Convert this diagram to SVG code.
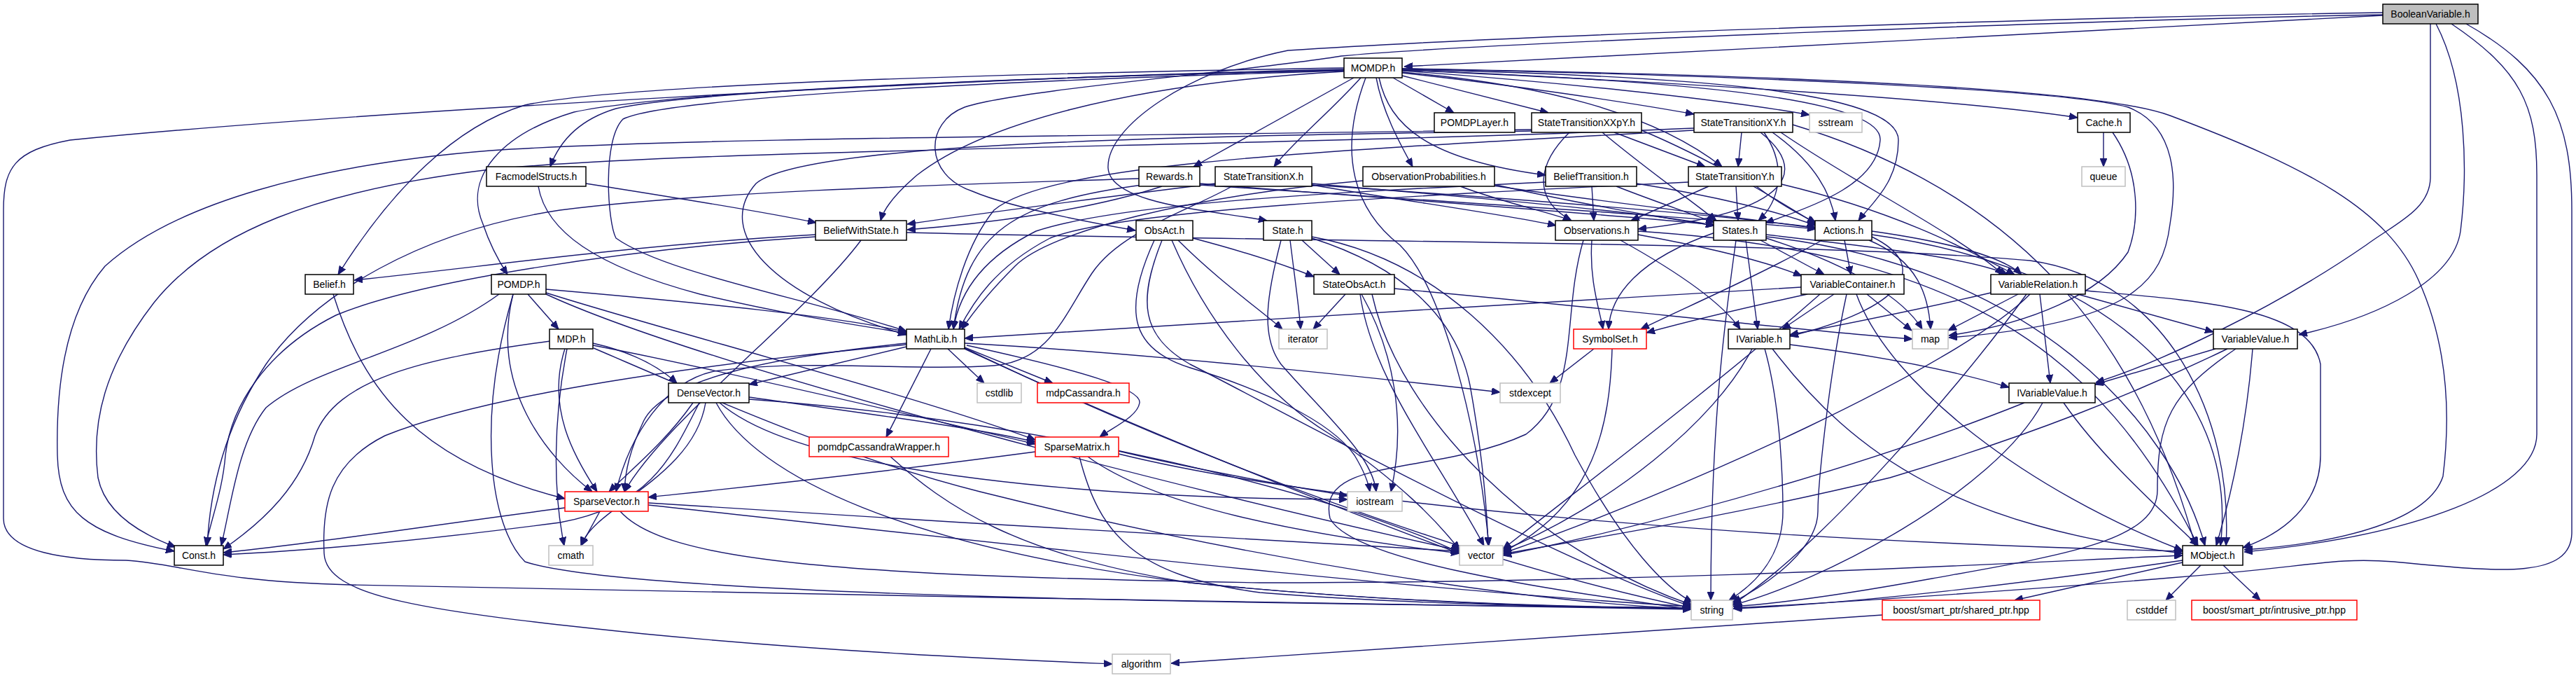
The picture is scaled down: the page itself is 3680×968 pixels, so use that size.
<svg xmlns="http://www.w3.org/2000/svg" width="3680" height="968" viewBox="0 0 3680 968">
<style>
.n rect{fill:#fff;stroke:#000;stroke-width:1.5}
.n.g rect{stroke:#bfbfbf}
.n.r rect{stroke:#ff0000}
.n.root rect{fill:#bfbfbf}
.n text{font-family:"Liberation Sans",Arial,sans-serif;font-size:14px;text-anchor:middle;fill:#000}
.e path{fill:none;stroke:#191970;stroke-width:1.4;marker-end:url(#a)}
</style>
<defs>
<marker id="a" markerWidth="12" markerHeight="10" refX="12" refY="5" orient="auto" markerUnits="userSpaceOnUse"><path d="M0,0 L12,5 L0,10 z" fill="#191970" stroke="#191970" stroke-width="1"/></marker>
</defs>
<rect width="3680" height="968" fill="#fff"/>
<g id="edges" class="e">
<path d="M3404,22 C3000,40 2400,78 2006,95"/>
<path d="M3404,18 C3000,24 2200,48 1840,72 C1700,100 1580,180 1583,240 C1586,292 1730,300 1810,315"/>
<path d="M3404,21 C3000,28 2100,62 1916,80 C1800,100 1450,128 1378,153 C1320,175 1320,250 1389,273 C1440,295 1560,318 1622,329"/>
<path d="M3472,34 L3472,253 C3472,300 3420,320 3380,350 C3250,440 3080,520 2994,546"/>
<path d="M3480,34 C3525,120 3525,250 3515,330 C3505,400 3400,452 3284,478"/>
<path d="M3502,34 C3600,100 3624,150 3624,250 L3624,620 C3624,700 3450,765 3206,788"/>
<path d="M3523,34 C3640,100 3674,170 3674,300 L3674,760 C3674,830 3560,815 3420,802 C3330,795 3300,810 3100,825 C2900,842 2600,862 2477,868"/>
<path d="M1990,111 L2077,161"/>
<path d="M2003,108 L2212,161"/>
<path d="M2003,104 C2150,120 2320,145 2420,163"/>
<path d="M2003,101 C2200,115 2450,140 2585,164"/>
<path d="M2003,103 C2200,120 2360,160 2460,238"/>
<path d="M2003,100 C2400,115 2690,140 2686,200 C2682,260 2600,292 2522,318"/>
<path d="M2003,99 C2400,108 2712,128 2712,200 C2712,262 2672,292 2655,315"/>
<path d="M2003,100 C2400,118 2800,142 2968,168"/>
<path d="M2003,98 C2500,108 2950,128 3040,153 C3110,180 3110,260 3100,320 C3090,400 3050,462 2784,482"/>
<path d="M2003,98 C2600,108 3000,128 3100,165 C3300,240 3410,300 3455,400 C3500,500 3500,600 3490,680 C3470,742 3350,775 3206,785"/>
<path d="M1934,111 L1705,238"/>
<path d="M1944,111 C1900,160 1845,205 1820,238"/>
<path d="M1966,111 C1975,160 2000,205 2018,238"/>
<path d="M1970,111 C1985,180 2040,228 2208,250"/>
<path d="M1951,111 C1910,220 1935,300 2000,350 C2060,410 2110,600 2127,779"/>
<path d="M1920,100 C1500,110 1000,128 880,155 C830,170 800,200 786,238"/>
<path d="M1920,97 C1500,104 900,118 750,150 C650,180 560,270 483,392"/>
<path d="M1920,99 C1400,110 500,160 100,200 C20,215 5,240 5,300 L5,740 C5,790 100,800 180,800 C260,805 300,830 500,835 C1000,850 1900,858 2416,870"/>
<path d="M1920,100 C1400,112 950,132 820,160 C720,190 660,250 690,320 C700,350 712,372 725,392"/>
<path d="M1920,101 C1400,116 950,140 890,170 C860,200 868,318 880,340 C950,390 1150,425 1295,473"/>
<path d="M1920,102 C1600,120 1400,180 1310,250 C1275,280 1262,300 1258,315"/>
<path d="M2188,185 C1600,195 1000,195 700,215 C450,235 250,290 150,380 C90,450 80,560 82,650 C84,730 120,762 249,787"/>
<path d="M2188,187 C1700,195 1150,202 1080,262 C1020,330 1100,422 1295,478"/>
<path d="M2242,189 C2200,230 2185,282 2245,315"/>
<path d="M2289,189 C2350,240 2410,282 2452,315"/>
<path d="M2306,189 L2436,238"/>
<path d="M2345,186 C2450,230 2550,292 2595,320"/>
<path d="M2420,183 C1800,210 1000,212 700,242 C450,272 300,332 220,432 C150,522 130,602 140,682 C150,732 200,762 251,781"/>
<path d="M2420,186 C1900,215 1500,232 1420,300 C1380,350 1362,420 1355,470"/>
<path d="M2488,189 L2483,238"/>
<path d="M2515,189 C2580,240 2570,302 2340,327"/>
<path d="M2520,189 C2555,240 2540,290 2512,315"/>
<path d="M2532,189 C2590,230 2615,272 2622,315"/>
<path d="M2544,189 C2650,262 2790,330 2862,392"/>
<path d="M2561,178 C2900,280 3060,500 3136,779"/>
<path d="M2441,266 L2330,315"/>
<path d="M2480,266 L2483,315"/>
<path d="M2509,266 C2540,290 2570,306 2594,318"/>
<path d="M2412,260 C2000,280 1600,300 1500,340 C1420,382 1390,432 1370,470"/>
<path d="M2545,263 C2700,300 2800,350 2878,392"/>
<path d="M2274,266 L2277,315"/>
<path d="M2309,266 C2370,290 2420,306 2449,318"/>
<path d="M2338,262 C2450,280 2540,302 2594,322"/>
<path d="M2208,260 C1900,275 1600,290 1480,330 C1400,370 1370,420 1362,470"/>
<path d="M2086,266 C2150,290 2210,302 2245,315"/>
<path d="M2133,263 C2250,290 2380,312 2449,322"/>
<path d="M2133,265 C2300,290 2500,312 2594,326"/>
<path d="M1947,258 C1700,280 1500,330 1450,380 C1410,420 1390,446 1374,470"/>
<path d="M1760,266 C1700,300 1600,330 1560,390 C1520,450 1500,515 1420,522 C1300,530 1150,512 1020,530 C950,545 900,620 880,702"/>
<path d="M1874,262 C2100,282 2350,302 2449,322"/>
<path d="M1874,264 C2200,286 2450,306 2594,325"/>
<path d="M1736,262 C1550,285 1400,305 1296,320"/>
<path d="M1874,264 C2000,286 2150,306 2223,322"/>
<path d="M1627,255 C1300,265 1000,275 800,300 C600,330 450,420 380,520 C320,610 300,700 296,779"/>
<path d="M1632,264 C1450,288 1380,330 1362,470"/>
<path d="M1714,262 C2000,285 2300,306 2449,321"/>
<path d="M1714,264 C2100,290 2450,312 2594,327"/>
<path d="M1660,266 C1550,302 1400,320 1296,328"/>
<path d="M837,262 C950,280 1080,300 1166,318"/>
<path d="M769,266 C780,330 850,380 1000,420 C1150,455 1240,466 1295,476"/>
<path d="M1165,335 C900,350 700,380 506,400"/>
<path d="M1165,338 C900,355 600,400 480,450 C380,500 330,580 322,650 C318,700 302,740 294,779"/>
<path d="M1230,343 C1150,450 950,600 892,702"/>
<path d="M1295,332 C1800,345 2600,345 2900,372 C3100,400 3190,600 3180,779"/>
<path d="M1704,340 C1780,360 1840,380 1877,395"/>
<path d="M1683,343 C1740,400 1800,442 1832,470"/>
<path d="M1674,343 C1720,450 1800,560 1900,620 C2000,690 2050,740 2085,785"/>
<path d="M1660,343 C1625,430 1630,480 1700,520 C1800,570 2200,790 2416,866"/>
<path d="M1649,343 C1600,450 1620,500 1700,525 C1800,555 1900,600 1935,650 C1950,675 1955,690 1957,702"/>
<path d="M1860,343 L1914,392"/>
<path d="M1843,343 C1850,400 1856,440 1858,470"/>
<path d="M1874,340 C2000,380 2080,450 2100,550 C2118,650 2124,720 2126,779"/>
<path d="M1874,338 C2050,370 2180,500 2250,650 C2320,780 2380,840 2418,860"/>
<path d="M1830,343 C1810,420 1800,480 1830,520 C1900,600 1960,650 1966,702"/>
<path d="M1922,420 L1876,470"/>
<path d="M1992,412 C2300,440 2550,470 2732,484"/>
<path d="M1943,420 C1960,540 2050,650 2120,779"/>
<path d="M1945,420 C1990,500 2010,600 1987,702"/>
<path d="M1960,420 C2000,600 2200,790 2418,864"/>
<path d="M2274,343 C2270,400 2285,442 2290,470"/>
<path d="M2315,343 C2400,390 2460,432 2486,470"/>
<path d="M2340,335 C2450,355 2530,376 2574,394"/>
<path d="M2262,343 C2230,450 2260,560 2180,620 C2050,680 1880,650 1900,740 C1930,800 2200,840 2416,870"/>
<path d="M2340,330 C2800,360 3000,500 3140,779"/>
<path d="M2450,332 C2340,370 2300,422 2298,470"/>
<path d="M2494,343 L2511,470"/>
<path d="M2515,343 L2606,392"/>
<path d="M2480,343 C2465,450 2444,600 2444,857"/>
<path d="M2523,335 C2700,355 2820,370 2868,392"/>
<path d="M2523,338 C2900,380 3100,600 3150,779"/>
<path d="M2523,340 C2650,380 2722,430 2746,470"/>
<path d="M2603,343 C2500,400 2400,442 2344,470"/>
<path d="M2635,343 L2644,392"/>
<path d="M2670,343 C2740,372 2755,422 2758,470"/>
<path d="M2674,330 C2780,345 2860,366 2888,392"/>
<path d="M2674,338 C2760,380 2720,440 2557,480"/>
<path d="M2674,335 C3000,380 3200,550 3172,779"/>
<path d="M2573,410 C2200,432 1700,462 1378,483"/>
<path d="M2582,420 C2480,442 2400,462 2352,475"/>
<path d="M2620,420 L2546,470"/>
<path d="M2667,420 L2731,472"/>
<path d="M2638,420 C2610,550 2597,700 2597,730 C2597,782 2530,832 2475,860"/>
<path d="M2652,420 C2700,552 2900,702 3118,786"/>
<path d="M2600,420 C2450,552 2250,702 2147,784"/>
<path d="M2844,418 C2750,440 2650,460 2557,478"/>
<path d="M2883,420 L2783,472"/>
<path d="M2914,420 L2929,547"/>
<path d="M2968,420 L3162,474"/>
<path d="M2895,420 C2800,552 2600,782 2475,863"/>
<path d="M2900,420 C2800,522 2400,702 2147,790"/>
<path d="M2979,415 C3150,430 3300,440 3315,520 L3315,650 C3315,722 3260,762 3204,782"/>
<path d="M3165,498 L2993,549"/>
<path d="M3218,498 C3210,600 3190,700 3166,779"/>
<path d="M3194,498 C3100,562 3082,602 3082,700 C3082,772 2950,792 2760,826 C2650,846 2550,861 2476,866"/>
<path d="M3182,498 C3050,562 2900,622 2700,682 C2450,742 2250,772 2147,791"/>
<path d="M2948,575 C3000,650 3080,722 3140,779"/>
<path d="M2892,575 C2700,652 2400,742 2147,793"/>
<path d="M2918,575 C2850,702 2600,832 2475,864"/>
<path d="M2503,498 C2450,602 2300,722 2147,786"/>
<path d="M2521,498 C2545,582 2547,700 2547,730 C2547,792 2510,832 2470,857"/>
<path d="M2532,498 C2650,652 2800,752 3118,790"/>
<path d="M2557,492 C2700,510 2800,532 2870,553"/>
<path d="M2277,498 L2214,547"/>
<path d="M2303,498 C2300,602 2280,722 2147,788"/>
<path d="M1295,495 L1070,549"/>
<path d="M1354,498 L1406,547"/>
<path d="M1378,496 L1504,547"/>
<path d="M1330,498 L1266,624"/>
<path d="M1381,493 C1550,530 1630,555 1628,575 C1625,595 1590,610 1571,624"/>
<path d="M1295,490 C1100,510 950,542 920,600 C900,642 893,672 892,702"/>
<path d="M1295,492 C1000,520 700,562 550,622 C470,662 460,722 463,790 C466,852 600,872 920,905 C1200,932 1450,942 1589,948"/>
<path d="M1378,498 C1600,602 1900,722 2085,790"/>
<path d="M1378,497 C1700,652 2100,802 2416,868"/>
<path d="M1378,490 C1600,502 1900,532 2143,560"/>
<path d="M990,575 C950,632 900,672 870,702"/>
<path d="M999,575 C960,652 930,722 800,746 C600,772 450,786 319,792"/>
<path d="M1008,575 C990,682 850,722 830,779"/>
<path d="M1070,567 C1250,592 1400,612 1479,631"/>
<path d="M1070,570 C1500,602 1900,702 2085,789"/>
<path d="M1023,575 C1080,682 1300,782 1700,832 C2000,862 2250,867 2416,869"/>
<path d="M1028,575 C1150,682 1600,712 1925,713"/>
<path d="M1479,645 C1200,682 1000,702 926,710"/>
<path d="M1554,652 C1650,722 1850,762 2085,790"/>
<path d="M1542,652 C1570,762 1620,822 1800,846 C2000,862 2250,867 2416,868"/>
<path d="M1598,648 C1900,722 2500,772 3118,787"/>
<path d="M1598,644 C1750,680 1880,700 1925,708"/>
<path d="M807,725 C600,752 450,776 319,789"/>
<path d="M857,730 L830,779"/>
<path d="M926,718 C1300,742 1800,772 2085,787"/>
<path d="M926,721 C1400,772 2000,842 2416,866"/>
<path d="M886,730 C950,802 1200,822 1800,832 C2400,832 2900,802 3118,793"/>
<path d="M754,420 L798,470"/>
<path d="M713,420 C600,502 450,522 380,582 C340,632 330,722 316,779"/>
<path d="M733,420 C700,552 780,652 846,702"/>
<path d="M733,420 C680,602 700,752 750,802 C900,852 1800,862 2416,868"/>
<path d="M780,413 C1000,432 1200,452 1295,474"/>
<path d="M780,418 C950,472 1300,562 1479,628"/>
<path d="M780,420 C1000,522 1700,702 2085,786"/>
<path d="M786,487 C600,512 480,542 450,622 C430,692 380,742 319,784"/>
<path d="M807,498 C780,582 820,652 853,702"/>
<path d="M810,498 C790,602 790,702 806,779"/>
<path d="M847,490 C900,502 940,522 967,547"/>
<path d="M847,493 C1000,522 1300,592 1479,634"/>
<path d="M848,497 C1000,562 1200,652 1400,702 C1800,802 2200,862 2416,869"/>
<path d="M476,420 C520,560 600,660 807,712"/>
<path d="M3118,803 L2878,857"/>
<path d="M3144,807 L3094,857"/>
<path d="M3176,807 L3229,857"/>
<path d="M3118,800 C2900,832 2650,862 2476,869"/>
<path d="M2689,878 C2300,905 1900,932 1673,947"/>
<path d="M3005,189 L3005,238"/>
<path d="M3018,189 C3060,250 3055,320 3040,360 C3000,420 2900,462 2784,479"/>
<path d="M1272,652 C1350,722 1450,792 1700,832 C2000,862 2250,867 2416,868"/>
</g>
<g id="n_BooleanVariable" class="n root"><rect x="3404" y="6" width="136" height="28"/><text x="3472" y="25">BooleanVariable.h</text></g>
<g id="n_MOMDP" class="n"><rect x="1920" y="83" width="83" height="28"/><text x="1961.5" y="102">MOMDP.h</text></g>
<g id="n_POMDPLayer" class="n"><rect x="2049" y="161" width="115" height="28"/><text x="2106.5" y="180">POMDPLayer.h</text></g>
<g id="n_StateTransitionXXpY" class="n"><rect x="2188" y="161" width="157" height="28"/><text x="2266.5" y="180">StateTransitionXXpY.h</text></g>
<g id="n_StateTransitionXY" class="n"><rect x="2420" y="161" width="141" height="28"/><text x="2490.5" y="180">StateTransitionXY.h</text></g>
<g id="n_sstream" class="n g"><rect x="2585" y="161" width="75" height="28"/><text x="2622.5" y="180">sstream</text></g>
<g id="n_Cache" class="n"><rect x="2968" y="161" width="75" height="28"/><text x="3005.5" y="180">Cache.h</text></g>
<g id="n_FacmodelStructs" class="n"><rect x="695" y="238" width="142" height="28"/><text x="766" y="257">FacmodelStructs.h</text></g>
<g id="n_Rewards" class="n"><rect x="1627" y="238" width="87" height="28"/><text x="1670.5" y="257">Rewards.h</text></g>
<g id="n_StateTransitionX" class="n"><rect x="1736" y="238" width="138" height="28"/><text x="1805" y="257">StateTransitionX.h</text></g>
<g id="n_ObservationProbabilities" class="n"><rect x="1947" y="238" width="188" height="28"/><text x="2041" y="257">ObservationProbabilities.h</text></g>
<g id="n_BeliefTransition" class="n"><rect x="2208" y="238" width="130" height="28"/><text x="2273" y="257">BeliefTransition.h</text></g>
<g id="n_StateTransitionY" class="n"><rect x="2412" y="238" width="133" height="28"/><text x="2478.5" y="257">StateTransitionY.h</text></g>
<g id="n_queue" class="n g"><rect x="2974" y="238" width="62" height="28"/><text x="3005" y="257">queue</text></g>
<g id="n_BeliefWithState" class="n"><rect x="1165" y="315" width="130" height="28"/><text x="1230" y="334">BeliefWithState.h</text></g>
<g id="n_ObsAct" class="n"><rect x="1623" y="315" width="81" height="28"/><text x="1663.5" y="334">ObsAct.h</text></g>
<g id="n_State" class="n"><rect x="1805" y="315" width="69" height="28"/><text x="1839.5" y="334">State.h</text></g>
<g id="n_Observations" class="n"><rect x="2222" y="315" width="118" height="28"/><text x="2281" y="334">Observations.h</text></g>
<g id="n_States" class="n"><rect x="2448" y="315" width="75" height="28"/><text x="2485.5" y="334">States.h</text></g>
<g id="n_Actions" class="n"><rect x="2593" y="315" width="81" height="28"/><text x="2633.5" y="334">Actions.h</text></g>
<g id="n_Belief" class="n"><rect x="436" y="392" width="69" height="28"/><text x="470.5" y="411">Belief.h</text></g>
<g id="n_POMDP" class="n"><rect x="702" y="392" width="78" height="28"/><text x="741" y="411">POMDP.h</text></g>
<g id="n_StateObsAct" class="n"><rect x="1877" y="392" width="115" height="28"/><text x="1934.5" y="411">StateObsAct.h</text></g>
<g id="n_VariableContainer" class="n"><rect x="2573" y="392" width="147" height="28"/><text x="2646.5" y="411">VariableContainer.h</text></g>
<g id="n_VariableRelation" class="n"><rect x="2844" y="392" width="135" height="28"/><text x="2911.5" y="411">VariableRelation.h</text></g>
<g id="n_MDP" class="n"><rect x="785" y="470" width="62" height="28"/><text x="816" y="489">MDP.h</text></g>
<g id="n_MathLib" class="n"><rect x="1295" y="470" width="83" height="28"/><text x="1336.5" y="489">MathLib.h</text></g>
<g id="n_iterator" class="n g"><rect x="1827" y="470" width="69" height="28"/><text x="1861.5" y="489">iterator</text></g>
<g id="n_SymbolSet" class="n r"><rect x="2248" y="470" width="104" height="28"/><text x="2300" y="489">SymbolSet.h</text></g>
<g id="n_IVariable" class="n"><rect x="2469" y="470" width="88" height="28"/><text x="2513" y="489">IVariable.h</text></g>
<g id="n_map" class="n g"><rect x="2732" y="470" width="51" height="28"/><text x="2757.5" y="489">map</text></g>
<g id="n_VariableValue" class="n"><rect x="3162" y="470" width="120" height="28"/><text x="3222" y="489">VariableValue.h</text></g>
<g id="n_DenseVector" class="n"><rect x="955" y="547" width="115" height="28"/><text x="1012.5" y="566">DenseVector.h</text></g>
<g id="n_cstdlib" class="n g"><rect x="1396" y="547" width="63" height="28"/><text x="1427.5" y="566">cstdlib</text></g>
<g id="n_mdpCassandra" class="n r"><rect x="1482" y="547" width="131" height="28"/><text x="1547.5" y="566">mdpCassandra.h</text></g>
<g id="n_stdexcept" class="n g"><rect x="2143" y="547" width="86" height="28"/><text x="2186" y="566">stdexcept</text></g>
<g id="n_IVariableValue" class="n"><rect x="2870" y="547" width="123" height="28"/><text x="2931.5" y="566">IVariableValue.h</text></g>
<g id="n_pomdpCassandraWrapper" class="n r"><rect x="1156" y="624" width="199" height="28"/><text x="1255.5" y="643">pomdpCassandraWrapper.h</text></g>
<g id="n_SparseMatrix" class="n r"><rect x="1479" y="624" width="119" height="28"/><text x="1538.5" y="643">SparseMatrix.h</text></g>
<g id="n_SparseVector" class="n r"><rect x="807" y="702" width="119" height="28"/><text x="866.5" y="721">SparseVector.h</text></g>
<g id="n_iostream" class="n g"><rect x="1925" y="702" width="78" height="28"/><text x="1964" y="721">iostream</text></g>
<g id="n_Const" class="n"><rect x="249" y="779" width="70" height="28"/><text x="284" y="798">Const.h</text></g>
<g id="n_cmath" class="n g"><rect x="784" y="779" width="63" height="28"/><text x="815.5" y="798">cmath</text></g>
<g id="n_vector" class="n g"><rect x="2085" y="779" width="62" height="28"/><text x="2116" y="798">vector</text></g>
<g id="n_MObject" class="n"><rect x="3118" y="779" width="86" height="28"/><text x="3161" y="798">MObject.h</text></g>
<g id="n_string" class="n g"><rect x="2416" y="857" width="59" height="28"/><text x="2445.5" y="876">string</text></g>
<g id="n_shared_ptr" class="n r"><rect x="2689" y="857" width="225" height="28"/><text x="2801.5" y="876">boost/smart_ptr/shared_ptr.hpp</text></g>
<g id="n_cstddef" class="n g"><rect x="3039" y="857" width="69" height="28"/><text x="3073.5" y="876">cstddef</text></g>
<g id="n_intrusive_ptr" class="n r"><rect x="3131" y="857" width="236" height="28"/><text x="3249" y="876">boost/smart_ptr/intrusive_ptr.hpp</text></g>
<g id="n_algorithm" class="n g"><rect x="1589" y="934" width="83" height="28"/><text x="1630.5" y="953">algorithm</text></g>
</svg>
